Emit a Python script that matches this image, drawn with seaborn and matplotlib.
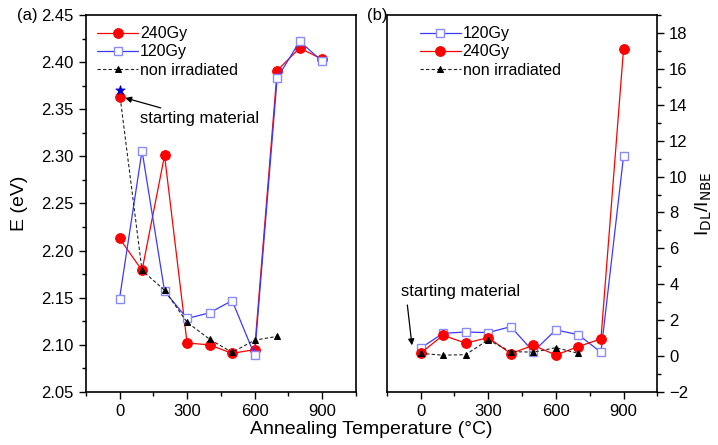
import matplotlib
matplotlib.use("Agg")
import matplotlib.pyplot as plt
from matplotlib.ticker import MultipleLocator, FormatStrFormatter
import seaborn as sns

sns.set_style("ticks", {'axes.edgecolor': 'black', 'text.color': 'black',
                        'xtick.color': 'black', 'ytick.color': 'black',
                        'axes.labelcolor': 'black'})
plt.rcParams['font.family'] = ['Liberation Sans', 'DejaVu Sans']

# ---- data ----
temps = [0, 100, 200, 300, 400, 500, 600, 700, 800, 900]
temps_non = [0, 100, 200, 300, 400, 500, 600, 700]

E_240 = [2.213, 2.179, 2.301, 2.102, 2.100, 2.091, 2.095, 2.391, 2.415, 2.403]
E_120 = [2.149, 2.306, 2.157, 2.128, 2.134, 2.147, 2.089, 2.383, 2.422, 2.401]
E_non = [2.368, 2.179, 2.158, 2.124, 2.106, 2.092, 2.105, 2.109]
E_start_240 = 2.363
E_start_star = 2.370

R_120 = [0.44, 1.27, 1.34, 1.31, 1.64, 0.25, 1.46, 1.19, 0.21, 11.12]
R_240 = [0.16, 1.16, 0.72, 1.03, 0.14, 0.60, 0.06, 0.53, 0.96, 17.08]
R_non = [0.15, 0.05, 0.08, 0.90, 0.25, 0.22, 0.47, 0.15]

RED = '#ff0000'
BLUE_LINE = '#3a3aff'
BLUE_MK = '#8a8aff'

fig = plt.figure(figsize=(7.18, 4.45), dpi=100)
axa = fig.add_axes([0.1194, 0.1191, 0.3764, 0.8472])
axb = fig.add_axes([0.5386, 0.1191, 0.3769, 0.8472])


def draw(ax, x, y, kind, label):
    if kind == '240':
        sns.lineplot(x=x, y=y, ax=ax, color=RED, lw=0.9, marker='o', markersize=7,
                     markerfacecolor=RED, markeredgecolor=RED, label=label, sort=False)
    elif kind == '120':
        sns.lineplot(x=x, y=y, ax=ax, color=BLUE_LINE, lw=0.9, marker='s', markersize=6,
                     markerfacecolor='white', markeredgecolor=BLUE_MK, markeredgewidth=1.0,
                     label=label, sort=False)
    else:
        sns.lineplot(x=x, y=y, ax=ax, color='#222222', lw=0.8, linestyle=(0, (3, 2)),
                     marker='^', markersize=5, markerfacecolor='black',
                     markeredgecolor='black', label=label, sort=False)


# panel (a)
draw(axa, temps, E_240, '240', '240Gy')
draw(axa, temps, E_120, '120', '120Gy')
draw(axa, temps_non, E_non, 'non', 'non irradiated')
sns.scatterplot(x=[0], y=[E_start_240], ax=axa, color=RED, s=50, edgecolor=RED, zorder=4)
sns.scatterplot(x=[0], y=[E_start_star], ax=axa, color='#0000cc', marker='*', s=50,
                edgecolor='#0000cc', zorder=5)

axa.set_xlim(-150, 1050)
axa.set_ylim(2.05, 2.45)
axa.yaxis.set_major_locator(MultipleLocator(0.05))
axa.yaxis.set_minor_locator(MultipleLocator(0.025))
axa.yaxis.set_major_formatter(FormatStrFormatter('%.2f'))
axa.set_ylabel('E (eV)', fontsize=14, labelpad=10)
axa.annotate('starting material', xy=(25, 2.362), xytext=(90, 2.340),
             fontsize=12, va='center', ha='left',
             arrowprops=dict(arrowstyle='-|>', color='black', lw=0.9,
                             shrinkA=0, shrinkB=0, mutation_scale=9))
axa.legend(loc='upper left', frameon=False, fontsize=11.5, handlelength=2.6,
           handletextpad=0.1, labelspacing=0.2, borderaxespad=0.3,
           bbox_to_anchor=(0.0, 1.0))

# panel (b)
draw(axb, temps, R_120, '120', '120Gy')
draw(axb, temps, R_240, '240', '240Gy')
draw(axb, temps_non, R_non, 'non', 'non irradiated')
axb.set_xlim(-150, 1050)
axb.set_ylim(-2, 19)
axb.yaxis.set_major_locator(MultipleLocator(2))
axb.yaxis.set_minor_locator(MultipleLocator(1))
axb.yaxis.tick_right()
axb.yaxis.set_label_position('right')
axb.set_ylabel(r'I$_{\rm DL}$/I$_{\rm NBE}$', fontsize=14, labelpad=4)
axb.annotate('starting material', xy=(-38, 0.6), xytext=(-88, 3.6),
             fontsize=12, va='center', ha='left',
             arrowprops=dict(arrowstyle='-|>', color='black', lw=0.9,
                             shrinkA=2, shrinkB=0, mutation_scale=9,
                             relpos=(0.05, 0.0)))
axb.legend(loc='upper left', frameon=False, fontsize=11.5, handlelength=2.6,
           handletextpad=0.1, labelspacing=0.2, borderaxespad=0.3,
           bbox_to_anchor=(0.08, 1.0))

for ax in (axa, axb):
    ax.xaxis.set_major_locator(MultipleLocator(300))
    ax.xaxis.set_minor_locator(MultipleLocator(150))
    ax.tick_params(which='major', direction='out', length=5, width=1.0, labelsize=12)
    ax.tick_params(which='minor', direction='out', length=3, width=1.0)
    ax.set_xlabel('')
    for s in ax.spines.values():
        s.set_visible(True)
        s.set_linewidth(1.2)
        s.set_color('black')

fig.text(0.5166, 0.035, 'Annealing Temperature (\u00b0C)', ha='center', va='center', fontsize=14)
fig.text(0.024, 0.966, '(a)', ha='left', va='center', fontsize=12)
fig.text(0.511, 0.966, '(b)', ha='left', va='center', fontsize=12)

fig.savefig('out.png', dpi=100)
